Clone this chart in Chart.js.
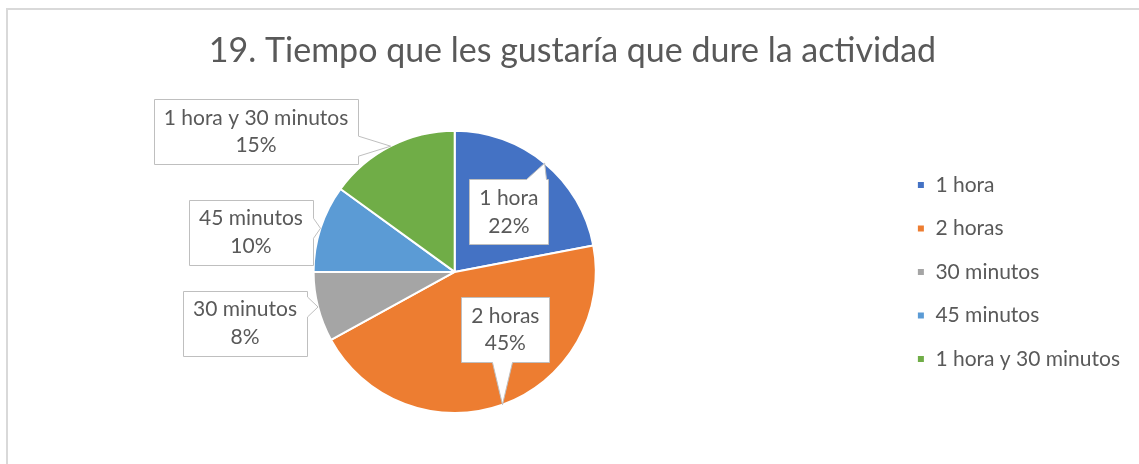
<!DOCTYPE html>
<html>
<head>
<meta charset="utf-8">
<script src="https://cdn.jsdelivr.net/npm/chart.js@4/dist/chart.umd.min.js"></script>
<style>
	html, body { margin: 0; padding: 0; background: #fff; }
	#contenedor { width: 1139px; height: 464px; }
</style>
</head>
<body>
<div id="contenedor"><canvas id="grafica"></canvas></div>
<script>
/*******************************************************************************
 * Datos
 *******************************************************************************/

var titulo = "19. Tiempo que les gustaría que dure la actividad";
var categorias = ["1 hora", "2 horas", "30 minutos", "45 minutos", "1 hora y 30 minutos"];
var porcentajes = [22, 45, 8, 10, 15];
var colores = ["#4472C4", "#ED7D31", "#A5A5A5", "#5B9BD5", "#70AD47"];

// centro de cada caja de etiqueta, relativo al centro de la tarta (en radios)
var pos_etiquetas = [[0.384, -0.426], [0.359, 0.408], [-1.486, 0.363], [-1.444, -0.282], [-1.408, -0.996]];

var fuente = "Lato";
var gris_texto = "#595959";

/*******************************************************************************
 * Plugins
 *******************************************************************************/

// fondo blanco y el marco gris de arriba y de la izquierda
var marcoPlugin = {
	id: 'marco',
	beforeDraw: function (chart) {
		var ctx = chart.ctx;
		ctx.save();
		ctx.fillStyle = "#fff";
		ctx.fillRect(0, 0, chart.width, chart.height);
		ctx.strokeStyle = "#d9d9d9";
		ctx.lineWidth = 2;
		ctx.beginPath();
		ctx.moveTo(7, chart.height);
		ctx.lineTo(7, 9);
		ctx.lineTo(chart.width, 9);
		ctx.stroke();
		ctx.restore();
	}
};

function dibujaCallout(ctx, caja, punta)
{
	var lado;
	if (punta.y < caja.t) lado = 'arr';
	else if (punta.y > caja.b) lado = 'aba';
	else if (punta.x > caja.r) lado = 'der';
	else lado = 'izq';

	var limita = function (v, min, max) { return Math.max(min + 12, Math.min(max - 12, v)); };
	var ph = limita(punta.x, caja.l, caja.r);
	var pv = limita(punta.y, caja.t, caja.b);

	ctx.beginPath();
	ctx.moveTo(caja.l, caja.t);
	if (lado === 'arr') {
		ctx.lineTo(ph - 10, caja.t);
		ctx.lineTo(punta.x, punta.y);
		ctx.lineTo(ph + 10, caja.t);
	}
	ctx.lineTo(caja.r, caja.t);
	if (lado === 'der') {
		ctx.lineTo(caja.r, pv - 10);
		ctx.lineTo(punta.x, punta.y);
		ctx.lineTo(caja.r, pv + 10);
	}
	ctx.lineTo(caja.r, caja.b);
	if (lado === 'aba') {
		ctx.lineTo(ph + 10, caja.b);
		ctx.lineTo(punta.x, punta.y);
		ctx.lineTo(ph - 10, caja.b);
	}
	ctx.lineTo(caja.l, caja.b);
	if (lado === 'izq') {
		ctx.lineTo(caja.l, pv + 10);
		ctx.lineTo(punta.x, punta.y);
		ctx.lineTo(caja.l, pv - 10);
	}
	ctx.closePath();
	ctx.fillStyle = "#fff";
	ctx.fill();
	ctx.strokeStyle = "#bfbfbf";
	ctx.lineWidth = 1;
	ctx.stroke();
}

// etiquetas tipo "bocadillo" con categoria y porcentaje
var etiquetasPlugin = {
	id: 'etiquetas',
	afterDatasetsDraw: function (chart) {
		var ctx = chart.ctx;
		var meta = chart.getDatasetMeta(0);
		var datos = chart.data.datasets[0].data;
		var total = datos.reduce(function (a, b) { return a + b; }, 0);

		ctx.save();
		ctx.font = "21px " + fuente;
		meta.data.forEach(function (arco, i) {
			var p = arco.getProps(['x', 'y', 'startAngle', 'endAngle', 'outerRadius'], true);
			var medio = (p.startAngle + p.endAngle) / 2;
			var punta = {
				x: p.x + Math.cos(medio) * p.outerRadius,
				y: p.y + Math.sin(medio) * p.outerRadius
			};
			var lineas = [chart.data.labels[i], Math.round(datos[i] / total * 100) + "%"];
			var ancho = Math.max(ctx.measureText(lineas[0]).width, ctx.measureText(lineas[1]).width) + 20;
			var alto = 65;
			var cx = p.x + pos_etiquetas[i][0] * p.outerRadius;
			var cy = p.y + pos_etiquetas[i][1] * p.outerRadius;
			var caja = {
				l: Math.round(cx - ancho / 2) + 0.5,
				r: Math.round(cx + ancho / 2) + 0.5,
				t: Math.round(cy - alto / 2) + 0.5,
				b: Math.round(cy + alto / 2) + 0.5
			};
			dibujaCallout(ctx, caja, punta);

			ctx.fillStyle = gris_texto;
			ctx.textAlign = "center";
			ctx.textBaseline = "middle";
			ctx.fillText(lineas[0], cx, cy - 13.5);
			ctx.fillText(lineas[1], cx, cy + 14);
		});
		ctx.restore();
	}
};

/*******************************************************************************
 * Grafica
 *******************************************************************************/

var contexto_canvas = document.getElementById('grafica').getContext('2d');

var grafica = new Chart(contexto_canvas, {
	type: 'pie',
	data: {
		labels: categorias,
		datasets: [{
			data: porcentajes,
			backgroundColor: colores,
			borderColor: "#fff",
			borderWidth: 2
		}]
	},
	options: {
		responsive: true,
		maintainAspectRatio: false,
		animation: false,
		layout: {
			padding: { left: 15, right: 9, top: 0, bottom: 50 }
		},
		plugins: {
			title: {
				display: true,
				text: titulo,
				color: gris_texto,
				font: { family: fuente, size: 34, weight: 'normal' },
				padding: { top: 31, bottom: 58 }
			},
			legend: {
				position: 'right',
				fullSize: false,
				labels: {
					boxWidth: 8,
					boxHeight: 8,
					color: gris_texto,
					font: { family: fuente, size: 21 },
					padding: 22.5
				}
			},
			tooltip: { enabled: false }
		}
	},
	plugins: [marcoPlugin, etiquetasPlugin]
});
</script>
</body>
</html>
